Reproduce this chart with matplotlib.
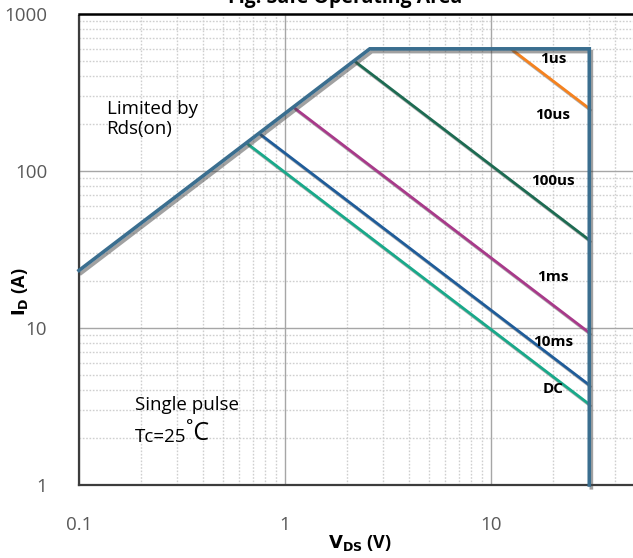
import numpy as np
import matplotlib
matplotlib.use("Agg")
import matplotlib.pyplot as plt
import matplotlib.patheffects as pe
from matplotlib.ticker import LogLocator, FixedLocator, FixedFormatter, NullFormatter

# SOA limits
rds_on = 0.0043          # ohm, on-resistance limit
id_max = 600.0           # A, package current limit
vds_max = 30.0           # V, breakdown limit

# Power-limited pulse lines (W) and their labels
pulse_labels = ["1us", "100us", "1ms", "10ms", "DC"]
pulse_power = [7500.0, 1090.0, 280.0, 130.0, 98.0]
pulse_colors = ["#F5821F", "#1D6B52", "#A83A8A", "#1F5C99", "#19A98A"]

# Text labels placed next to the lines (V, A)
tag_text = ["1us", "10us", "100us", "1ms", "10ms", "DC"]
tag_v = [20.0, 20.0, 20.0, 20.0, 20.0, 20.0]
tag_i = [520.0, 228.0, 86.0, 21.0, 8.1, 4.1]

x_ticks = [0.1, 1, 10]
x_tick_labels = ["0.1", "1", "10"]
y_ticks = [1, 10, 100, 1000]
y_tick_labels = ["1", "10", "100", "1000"]

W, H = 633, 558
fig = plt.figure(figsize=(W / 100, H / 100), dpi=100)
ax_left, ax_right = 79, 697
ax_top, ax_bot = 14, 485
ax = fig.add_axes([ax_left / W, 1 - ax_bot / H, (ax_right - ax_left) / W, (ax_bot - ax_top) / H])
ax.set_xscale("log")
ax.set_yscale("log")
ax.set_xlim(0.1, 100)
ax.set_ylim(1, 1000)

# grid
ax.xaxis.set_minor_locator(LogLocator(base=10, subs=np.arange(2, 10)))
ax.yaxis.set_minor_locator(LogLocator(base=10, subs=np.arange(2, 10)))
ax.grid(which="major", color="#A6A6A6", lw=1.0, ls="-")
ax.grid(which="minor", color="#CFCFCF", lw=1.0, ls=(0, (1.2, 1.2)))
ax.set_axisbelow(True)

ax.xaxis.set_major_locator(FixedLocator(x_ticks))
ax.xaxis.set_major_formatter(FixedFormatter(x_tick_labels))
ax.yaxis.set_major_locator(FixedLocator(y_ticks))
ax.yaxis.set_major_formatter(FixedFormatter(y_tick_labels))
ax.xaxis.set_minor_formatter(NullFormatter())
ax.yaxis.set_minor_formatter(NullFormatter())
ax.tick_params(which="both", length=0)
ax.tick_params(axis="x", pad=22, labelsize=13.5, labelcolor="#595959")
ax.tick_params(axis="y", pad=23, labelsize=13.5, labelcolor="#595959")
for lab in ax.get_xticklabels() + ax.get_yticklabels():
    lab.set_fontfamily("Open Sans")

for side in ("left", "bottom"):
    ax.spines[side].set_linestyle((0, (1, 1)))
    ax.spines[side].set_color("#3C3C3C")
    ax.spines[side].set_linewidth(1.6)
ax.spines["top"].set_color("black")
ax.spines["top"].set_linewidth(1.8)
ax.spines["right"].set_visible(False)

shadow = [pe.SimpleLineShadow(offset=(1.5, -1.8), shadow_color="#555555", alpha=0.45),
          pe.Normal()]

# power-limited lines I = P / V, from the Rds/Id limit to Vds max
for p, c in zip(pulse_power, pulse_colors):
    v0 = max(np.sqrt(p * rds_on), p / id_max)
    v = np.array([v0, vds_max])
    ax.plot(v, p / v, color=c, lw=2.0, solid_capstyle="butt", path_effects=shadow, zorder=3)

# outer boundary: Rds(on) line, current limit, voltage limit
v_knee = id_max * rds_on
bx = [0.1, v_knee, vds_max, vds_max]
by = [0.1 / rds_on, id_max, id_max, 1.0]
ax.plot(bx, by, color="#3A6E8F", lw=2.6, solid_joinstyle="miter",
        path_effects=[pe.SimpleLineShadow(offset=(1.5, -2), shadow_color="#444444", alpha=0.5), pe.Normal()],
        zorder=4, clip_on=False)

for t, v, i in zip(tag_text, tag_v, tag_i):
    ax.text(v, i, t, fontsize=11, fontweight="bold", family="Open Sans",
            ha="center", va="center", color="black", zorder=5)

ax.text(0.136, 285, "Limited by\nRds(on)", fontsize=13.5, family="Open Sans",
        ha="left", va="top", linespacing=1.2)
ax.text(0.187, 3.0, "Single pulse", fontsize=13.5, family="Open Sans", ha="left", va="baseline")
t2 = ax.text(0.187, 1.88, "Tc=25", fontsize=13.5, family="Open Sans", ha="left", va="baseline")
ax.annotate("˚C", xy=(1, 0), xycoords=t2, fontsize=18, family="Open Sans",
            ha="left", va="bottom")

fig.text(360 / W, 1 - 543 / H, r"$\mathbf{V_{DS}}$ (V)", fontsize=13, fontweight="bold",
         family="Open Sans", ha="center", va="center")
fig.text(20 / W, 1 - 292 / H, r"$\mathbf{I_{D}}$ (A)", fontsize=13, fontweight="bold",
         family="Open Sans", ha="center", va="center", rotation=90)
fig.text(345 / W, 1 - 3 / H, "Fig. Safe Operating Area", fontsize=14, fontweight="bold",
         family="Open Sans", ha="center", va="baseline")

fig.savefig("out.png", dpi=100)
